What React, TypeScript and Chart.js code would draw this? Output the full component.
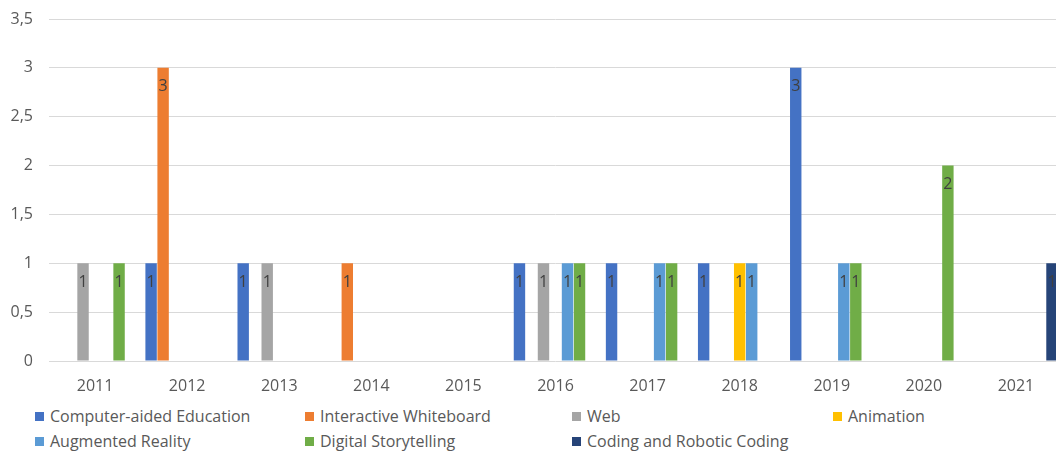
import React, { useEffect, useRef } from "react";
import { Chart, registerables } from "chart.js";

Chart.register(...registerables);

const categories = ["2011", "2012", "2013", "2014", "2015", "2016", "2017", "2018", "2019", "2020", "2021"];

const computerAidedEducation = [0, 1, 1, 0, 0, 1, 1, 1, 3, 0, 0];
const interactiveWhiteboard = [0, 3, 0, 1, 0, 0, 0, 0, 0, 0, 0];
const web = [1, 0, 1, 0, 0, 1, 0, 0, 0, 0, 0];
const animation = [0, 0, 0, 0, 0, 0, 0, 1, 0, 0, 0];
const augmentedReality = [0, 0, 0, 0, 0, 1, 1, 1, 1, 0, 0];
const digitalStorytelling = [1, 0, 0, 0, 0, 1, 1, 0, 1, 2, 0];
const codingAndRoboticCoding = [0, 0, 0, 0, 0, 0, 0, 0, 0, 0, 1];

const seriesNames = [
  "Computer-aided Education",
  "Interactive Whiteboard",
  "Web",
  "Animation",
  "Augmented Reality",
  "Digital Storytelling",
  "Coding and Robotic Coding",
];
const seriesValues = [
  computerAidedEducation,
  interactiveWhiteboard,
  web,
  animation,
  augmentedReality,
  digitalStorytelling,
  codingAndRoboticCoding,
];
const seriesColors = ["#4472C4", "#ED7D31", "#A5A5A5", "#FFC000", "#5B9BD5", "#70AD47", "#264478"];

const yMin = 0;
const yMax = 3.5;
const yStep = 0.5;

// legend placement (column left, row center)
const legendSlots = [
  { left: 35, top: 416 },
  { left: 305, top: 416 },
  { left: 572, top: 416 },
  { left: 833, top: 416 },
  { left: 35, top: 441 },
  { left: 305, top: 441 },
  { left: 572, top: 441 },
];

const FONT = "'Open Sans', 'Noto Sans', sans-serif";

const dataLabelPlugin = {
  id: "dataLabels",
  afterDatasetsDraw(chart: any) {
    const ctx = chart.ctx;
    ctx.save();
    ctx.font = `16px ${FONT}`;
    ctx.fillStyle = "#404040";
    ctx.textAlign = "center";
    ctx.textBaseline = "middle";
    chart.data.datasets.forEach((ds: any, i: number) => {
      const meta = chart.getDatasetMeta(i);
      meta.data.forEach((el: any, j: number) => {
        const v = ds.data[j];
        if (v && v > 0) {
          ctx.fillText(String(v), el.x, el.y + 19);
        }
      });
    });
    ctx.restore();
  },
};

export default function App() {
  const canvasRef = useRef<HTMLCanvasElement | null>(null);

  useEffect(() => {
    if (!canvasRef.current) return;
    const chart = new Chart(canvasRef.current, {
      type: "bar",
      data: {
        labels: categories,
        datasets: seriesNames.map((name, i) => ({
          label: name,
          data: seriesValues[i],
          backgroundColor: seriesColors[i],
          borderWidth: 0,
          categoryPercentage: 0.913,
          barPercentage: 0.95,
        })),
      },
      options: {
        responsive: false,
        animation: false,
        devicePixelRatio: 1,
        layout: { padding: { top: 19, left: 0, right: 0, bottom: 0 } },
        plugins: {
          legend: { display: false },
          tooltip: { enabled: false },
        },
        scales: {
          x: {
            grid: { display: false, drawTicks: false },
            border: { display: false },
            ticks: {
              color: "#595959",
              font: { family: FONT, size: 16 },
              padding: 16,
              maxRotation: 0,
            },
            afterFit: (scale: any) => {
              scale.height = 39;
            },
          },
          y: {
            min: yMin,
            max: yMax,
            grid: {
              color: "#D9D9D9",
              lineWidth: 1,
              drawTicks: true,
              tickLength: 14,
              tickColor: "rgba(0,0,0,0)",
            },
            border: { display: false },
            ticks: {
              stepSize: yStep,
              color: "#595959",
              font: { family: FONT, size: 16 },
              padding: 2,
              callback: (v: any) => String(v).replace(".", ","),
            },
            afterFit: (scale: any) => {
              scale.width = 49;
            },
          },
        },
      },
      plugins: [dataLabelPlugin],
    });
    return () => chart.destroy();
  }, []);

  return (
    <div
      style={{
        position: "absolute",
        left: 0,
        top: 0,
        width: 1056,
        height: 452,
        overflow: "hidden",
        background: "#ffffff",
        fontFamily: FONT,
      }}
    >
      <canvas
        ref={canvasRef}
        width={1062}
        height={400}
        style={{ position: "absolute", left: 0, top: 0, width: 1062, height: 400 }}
      />
      {seriesNames.map((name, i) => (
        <div
          key={name}
          style={{
            position: "absolute",
            left: legendSlots[i].left,
            top: legendSlots[i].top - 11,
            height: 22,
            display: "flex",
            alignItems: "center",
            whiteSpace: "nowrap",
            fontSize: 16,
            color: "#595959",
          }}
        >
          <span
            style={{
              display: "inline-block",
              width: 9,
              height: 9,
              background: seriesColors[i],
              marginRight: 6,
            }}
          />
          <span>{name}</span>
        </div>
      ))}
    </div>
  );
}
